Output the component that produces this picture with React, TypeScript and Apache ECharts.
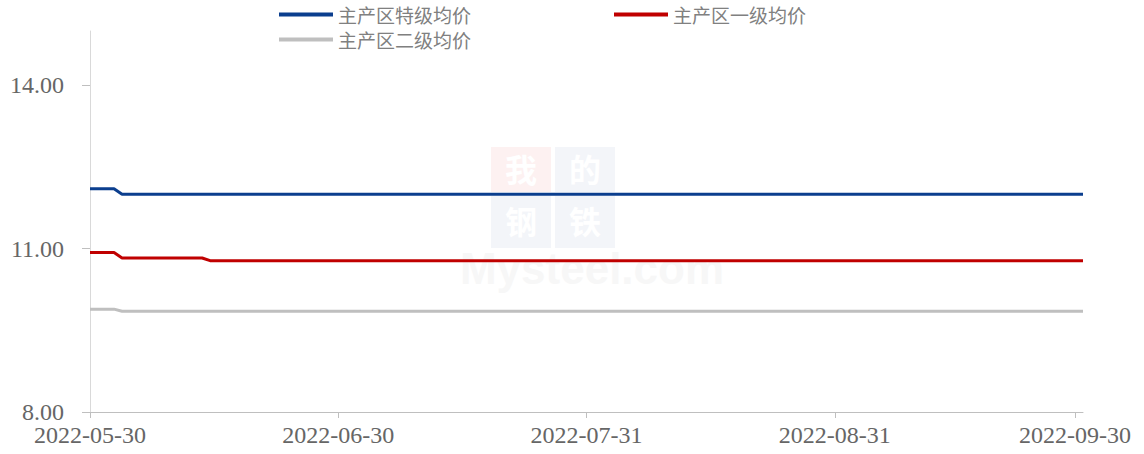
import React, { useEffect, useRef } from "react";
import * as echarts from "echarts";

const seriesNames = ["主产区特级均价", "主产区一级均价", "主产区二级均价"];
const seriesColors = ["#0B3E8E", "#C00000", "#BFBFBF"];

const topGrade: [string, number][] = [
  ["2022-05-30", 12.1],
  ["2022-06-02", 12.1],
  ["2022-06-03", 12.0],
  ["2022-10-01", 12.0],
];
const firstGrade: [string, number][] = [
  ["2022-05-30", 10.93],
  ["2022-06-02", 10.93],
  ["2022-06-03", 10.83],
  ["2022-06-13", 10.83],
  ["2022-06-14", 10.78],
  ["2022-10-01", 10.78],
];
const secondGrade: [string, number][] = [
  ["2022-05-30", 9.89],
  ["2022-06-02", 9.89],
  ["2022-06-03", 9.85],
  ["2022-10-01", 9.85],
];

const xTickLabels = ["2022-05-30", "2022-06-30", "2022-07-31", "2022-08-31", "2022-09-30"];
const xMin = "2022-05-30";
const xMax = "2022-10-01";
const yMin = 8;
const yMax = 15;
const yInterval = 3;

const ts = (s: string) => {
  const [y, m, d] = s.split("-").map(Number);
  return new Date(y, m - 1, d).getTime();
};
const pad = (n: number) => (n < 10 ? "0" + n : "" + n);
const fmt = (v: number) => {
  const d = new Date(v);
  return `${d.getFullYear()}-${pad(d.getMonth() + 1)}-${pad(d.getDate())}`;
};

export default function App() {
  const ref = useRef<HTMLDivElement>(null);
  useEffect(() => {
    if (!ref.current) return;
    const chart = echarts.init(ref.current, null, { renderer: "svg" });
    const dataSets = [topGrade, firstGrade, secondGrade];
    const tickValues = xTickLabels.map(ts);
    chart.setOption({
      animation: false,
      backgroundColor: "#ffffff",
      legend: {
        left: 279,
        top: 4,
        padding: 0,
        width: 700,
        icon: "rect",
        itemWidth: 54,
        itemHeight: 4,
        itemGap: 4,
        textStyle: {
          fontFamily: "Noto Sans CJK SC",
          fontSize: 19,
          color: "#808080",
          width: 272,
          lineHeight: 21,
        },
        data: seriesNames,
      },
      grid: { left: 90, right: 61, top: 31, bottom: 42, containLabel: false },
      xAxis: {
        type: "value",
        min: ts(xMin),
        max: ts(xMax),
        splitLine: { show: false },
        axisLine: { show: true, lineStyle: { color: "#BFBFBF", width: 1 } },
        axisTick: {
          show: true,
          length: 6,
          lineStyle: { color: "#BFBFBF" },
          customValues: tickValues,
        },
        axisLabel: {
          customValues: tickValues,
          formatter: (v: number) => fmt(v),
          fontFamily: "Liberation Serif",
          fontSize: 24,
          color: "#666666",
          margin: 11,
          hideOverlap: false,
        },
      },
      yAxis: {
        type: "value",
        min: yMin,
        max: yMax,
        interval: yInterval,
        splitLine: { show: false },
        axisLine: { show: true, lineStyle: { color: "#D9D9D9", width: 1 } },
        axisTick: { show: true, length: 8, lineStyle: { color: "#BFBFBF" } },
        axisLabel: {
          showMaxLabel: false,
          formatter: (v: number) => v.toFixed(2),
          fontFamily: "Liberation Serif",
          fontSize: 24,
          color: "#666666",
          margin: 26,
        },
      },
      graphic: [
        {
          type: "group",
          z: -10,
          silent: true,
          children: [
            { type: "rect", shape: { x: 491, y: 147, width: 60, height: 45 }, style: { fill: "#FDF1F1" } },
            { type: "rect", shape: { x: 555, y: 147, width: 60, height: 45 }, style: { fill: "#F3F5F9" } },
            { type: "rect", shape: { x: 491, y: 196, width: 60, height: 52 }, style: { fill: "#F3F5F9" } },
            { type: "rect", shape: { x: 555, y: 196, width: 60, height: 52 }, style: { fill: "#F3F5F9" } },
            { type: "text", x: 521, y: 168, style: { text: "我", fill: "#FFFFFF", font: "bold 32px 'Noto Sans CJK SC'", align: "center", verticalAlign: "middle" } },
            { type: "text", x: 585, y: 168, style: { text: "的", fill: "#FFFFFF", font: "bold 32px 'Noto Sans CJK SC'", align: "center", verticalAlign: "middle" } },
            { type: "text", x: 521, y: 220, style: { text: "钢", fill: "#FFFFFF", font: "bold 32px 'Noto Sans CJK SC'", align: "center", verticalAlign: "middle" } },
            { type: "text", x: 585, y: 220, style: { text: "铁", fill: "#FFFFFF", font: "bold 32px 'Noto Sans CJK SC'", align: "center", verticalAlign: "middle" } },
            { type: "text", x: 592, y: 268, style: { text: "Mysteel.com", fill: "#F7F7F7", font: "bold 44px 'Liberation Sans'", align: "center", verticalAlign: "middle" } },
          ],
        },
      ],
      series: dataSets.map((d, i) => ({
        name: seriesNames[i],
        type: "line",
        data: d.map(([t, v]) => [ts(t), v]),
        symbol: "none",
        showSymbol: false,
        lineStyle: { color: seriesColors[i], width: 3 },
        itemStyle: { color: seriesColors[i] },
        z: 5,
      })),
    });
    return () => chart.dispose();
  }, []);
  return <div ref={ref} style={{ width: 1144, height: 454, position: "absolute", left: 0, top: 0 }} />;
}
